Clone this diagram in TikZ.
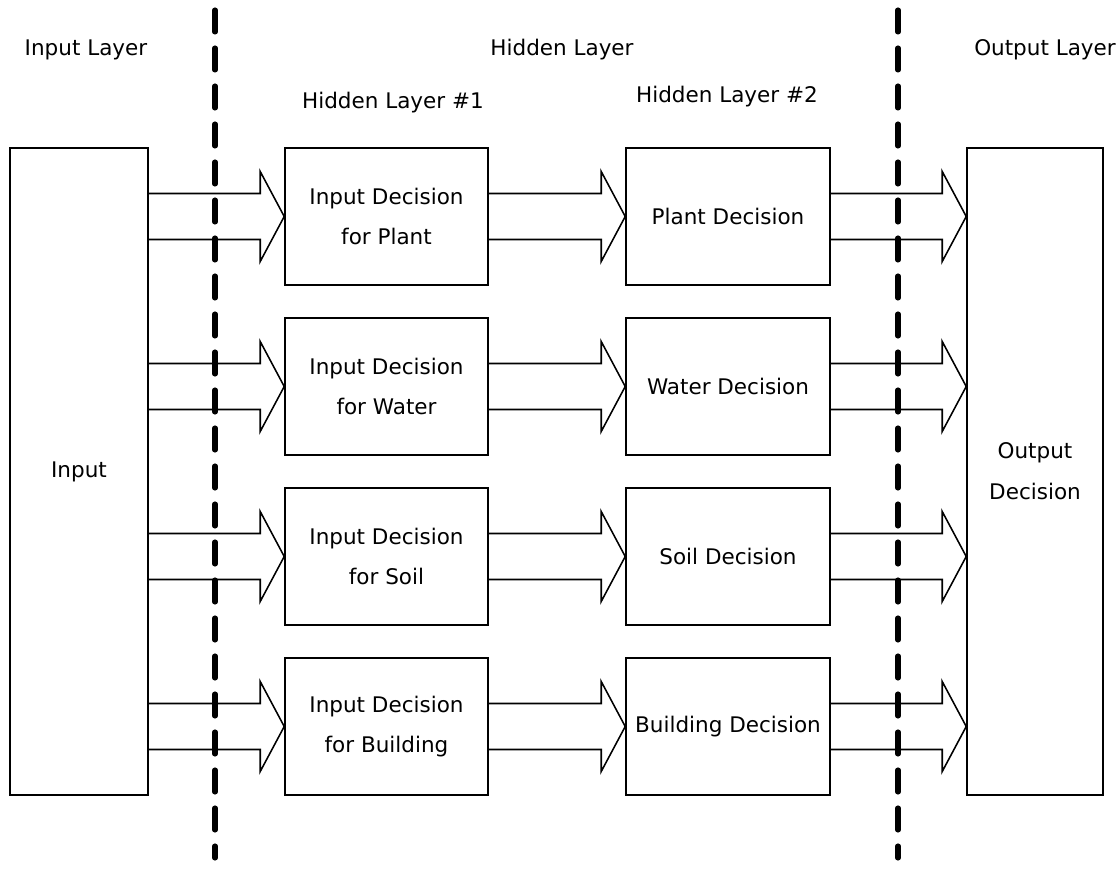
\documentclass[tikz,border=0pt]{standalone}
\usepackage{fontspec}
\setmainfont{DejaVu Sans}
\usetikzlibrary{calc}

% open block arrow from a tail point to a tip point
\newcommand{\blockarrow}[2]{%
  \draw[fatline] ($(#1)+(0,0.575)$) -- ($(#2)+(-0.6,0.575)$) -- ($(#2)+(-0.6,1.125)$)
    -- (#2) -- ($(#2)+(-0.6,-1.125)$) -- ($(#2)+(-0.6,-0.575)$) -- ($(#1)+(0,-0.575)$);
}

\begin{document}
\begin{tikzpicture}[
    font=\fontsize{15.3}{29}\selectfont,
    box/.style={
        draw=black,
        line width=1.1pt,
        fill=white,
        align=center,
        inner sep=0pt
    },
    fatline/.style={
        draw=black,
        line width=1.1pt,
        line join=miter
    },
    divider/.style={
        draw=black,
        line width=3.6pt,
        line cap=round,
        dash pattern=on 0.55cm off 0.4cm
    },
    labeltext/.style={
        align=center
    }
]

% Background
\useasboundingbox (0,0) rectangle (28,21.7);
\fill[white] (0,0) rectangle (28,21.7);

% Layer titles
\node[labeltext] (tIn) at (2.15,20.45) {Input Layer};
\node[labeltext] (tHid) at (14.05,20.45) {Hidden Layer};
\node[labeltext] (tOut) at (26.125,20.45) {Output Layer};
\node[labeltext] (tH1) at (9.825,19.125) {Hidden Layer \#1};
\node[labeltext] (tH2) at (18.175,19.275) {Hidden Layer \#2};

% Input and output columns
\node[box, minimum width=3.45cm, minimum height=16.175cm] (inp) at (1.975,9.9125) {Input};
\node[box, minimum width=3.4cm, minimum height=16.175cm] (out) at (25.875,9.9125) {Output\\Decision};

% Hidden layers
\foreach \y/\i/\lab in {16.2875/1/Plant,12.0375/2/Water,7.7875/3/Soil,3.5375/4/Building} {
    \node[box, minimum width=5.075cm, minimum height=3.425cm] (hA\i) at (9.6625,\y)
    {Input Decision\\for \lab};
    \node[box, minimum width=5.1cm, minimum height=3.425cm] (hB\i) at (18.2,\y)
    {\lab{} Decision};
}

% Block arrows
\foreach \i in {1,...,4} {
    \coordinate (s\i) at (inp.east |- hA\i.west);
    \coordinate (o\i) at (out.west |- hB\i.east);
    \blockarrow{s\i}{hA\i.west}
    \blockarrow{hA\i.east}{hB\i.west}
    \blockarrow{hB\i.east}{o\i}
}

% Layer dividers
\coordinate (d1top) at (5.375,21.45);
\coordinate (d1bot) at (5.375,0.25);
\coordinate (d2top) at (22.45,21.45);
\coordinate (d2bot) at (22.45,0.25);
\draw[divider] (d1top) -- (d1bot);
\draw[divider] (d2top) -- (d2bot);

\end{tikzpicture}
\end{document}
